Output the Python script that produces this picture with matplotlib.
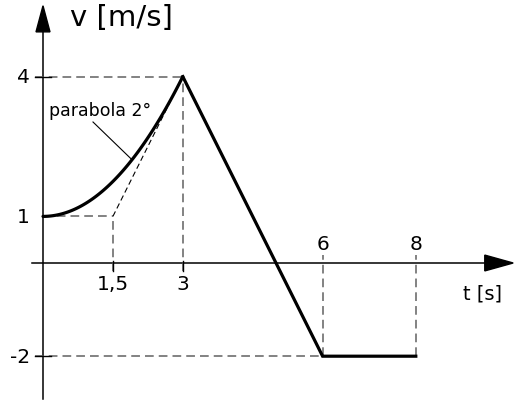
import matplotlib
matplotlib.use('Agg')
import matplotlib.pyplot as plt
import numpy as np
from matplotlib.patches import Polygon

# v-t diagram: parabola from (0,1) to (3,4), then linear to (6,-2), constant to 8
t_par = [0, 3]
v_par = [1, 4]
t_lin = [3, 6, 8]
v_lin = [4, -2, -2]
t_tangent = [1.5, 3]      # tangent line of the parabola at t=3
v_tangent = [1, 4]

x_ticks = [1.5, 3, 6, 8]
x_labels = ['1,5', '3', '6', '8']
y_ticks = [4, 1, -2]
y_labels = ['4', '1', '-2']

plt.rcParams['font.family'] = ['DejaVu Sans']

S = 46.6  # pixels per unit
fig = plt.figure(figsize=(5.18, 4.02), dpi=100)
ax = fig.add_axes([0, 0, 1, 1])
ax.set_xlim(-43 / S, (518 - 43) / S)
ax.set_ylim(-(402 - 264) / S, 264 / S)
ax.axis('off')

k = 'black'
g = '#606060'
tick = 8 / S

# axes
ax.plot([-11 / S, 9.5], [0, 0], color=k, lw=1.1)
ax.plot([0, 0], [-136 / S, 5.0], color=k, lw=1.1)
ax.add_patch(Polygon([[10.09, 0], [9.48, 0.17], [9.48, -0.17]], closed=True, color=k))
ax.add_patch(Polygon([[0, 5.52], [-0.15, 4.96], [0.15, 4.96]], closed=True, color=k))

# dashed helper lines
dash = dict(color=g, lw=1.1, dashes=(5.7, 3.3))
ax.plot([-tick, 3], [4, 4], **dash)
ax.plot([0, 1.5], [1, 1], **dash)
ax.plot([-tick, 6], [-2, -2], **dash)
ax.plot([3, 3], [-tick, 4], **dash)
ax.plot([1.5, 1.5], [-tick, 1], **dash)
ax.plot([6, 6], [-2, tick], **dash)
ax.plot([8, 8], [-2, tick], **dash)
ax.plot(t_tangent, v_tangent, color=k, lw=0.8, dashes=(5, 3))

# ticks crossing the axes
ax.plot([-tick, tick], [4, 4], color=k, lw=1.0)
ax.plot([-tick, tick], [-2, -2], color=k, lw=1.0)
ax.plot([1.5, 1.5], [-tick, tick * 0.3], color=k, lw=1.0)
ax.plot([3, 3], [-tick, tick * 0.3], color=k, lw=1.0)

# velocity curve
t = np.linspace(t_par[0], t_par[1], 100)
a = (v_par[1] - v_par[0]) / (t_par[1] - t_par[0]) ** 2
ax.plot(t, v_par[0] + a * t ** 2, color=k, lw=2.3, solid_capstyle='round')
ax.plot(t_lin, v_lin, color=k, lw=2.3, solid_joinstyle='miter')

# tick labels
fs = 14.5
for x, lab in zip(x_ticks, x_labels):
    if x < 5:
        ax.text(x, -21 / S, lab, ha='center', va='center', fontsize=fs)
    else:
        ax.text(x, 19 / S, lab, ha='center', va='center', fontsize=fs)
for y, lab in zip(y_ticks, y_labels):
    ax.text(-13 / S, y, lab, ha='right', va='center', fontsize=fs)

# axis titles
ax.text(27 / S, 246 / S, 'v [m/s]', ha='left', va='center', fontsize=21)
ax.text(420 / S, -30 / S, 't [s]', ha='left', va='center', fontsize=14)

# annotation of the parabola
ax.text(6 / S, 153 / S, 'parabola 2°', ha='left', va='center', fontsize=12.5)
tx = 1.91
ax.plot([50 / S, tx], [141 / S, v_par[0] + a * tx ** 2], color=k, lw=0.8)

fig.savefig('out.png', dpi=100)
